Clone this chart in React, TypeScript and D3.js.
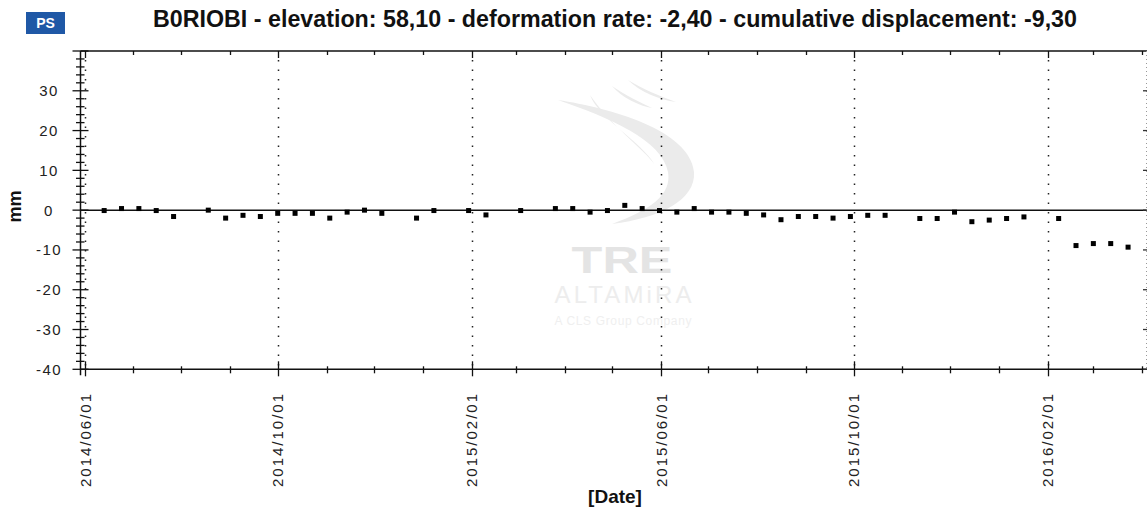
import React from 'react';
import * as d3 from 'd3';

const titleText = 'B0RIOBI - elevation: 58,10 - deformation rate: -2,40 - cumulative displacement: -9,30';
const badgeText = 'PS';
const yAxisTitle = 'mm';
const xAxisTitle = '[Date]';

const dates = [
  '2014-06-13', '2014-06-24', '2014-07-05', '2014-07-16', '2014-07-27', '2014-08-18', '2014-08-29',
  '2014-09-09', '2014-09-20', '2014-10-01', '2014-10-12', '2014-10-23', '2014-11-03', '2014-11-14',
  '2014-11-25', '2014-12-06', '2014-12-28', '2015-01-08', '2015-01-30', '2015-02-10', '2015-03-04',
  '2015-03-26', '2015-04-06', '2015-04-17', '2015-04-28', '2015-05-09', '2015-05-20', '2015-05-31',
  '2015-06-11', '2015-06-22', '2015-07-03', '2015-07-14', '2015-07-25', '2015-08-05', '2015-08-16',
  '2015-08-27', '2015-09-07', '2015-09-18', '2015-09-29', '2015-10-10', '2015-10-21', '2015-11-12',
  '2015-11-23', '2015-12-04', '2015-12-15', '2015-12-26', '2016-01-06', '2016-01-17', '2016-02-08',
  '2016-02-19', '2016-03-01', '2016-03-12', '2016-03-23',
];
const displacement = [
  -0.1, 0.4, 0.4, -0.1, -1.6, 0.0, -2.0,
  -1.3, -1.6, -0.8, -0.8, -0.8, -2.0, -0.5,
  0.0, -0.8, -2.0, -0.1, -0.1, -1.2, -0.1,
  0.4, 0.4, -0.5, -0.1, 1.2, 0.4, -0.1,
  -0.5, 0.4, -0.5, -0.5, -0.8, -1.2, -2.4,
  -1.6, -1.6, -2.0, -1.6, -1.3, -1.3, -2.1,
  -2.1, -0.5, -2.9, -2.5, -2.1, -1.7, -2.1,
  -8.9, -8.4, -8.4, -9.3,
];
const xTickLabels = ['2014/06/01', '2014/10/01', '2015/02/01', '2015/06/01', '2015/10/01', '2016/02/01'];
const yTickLabels = [-40, -30, -20, -10, 0, 10, 20, 30];
const xDomain = ['2014-05-29', '2016-04-04'];
const yDomain = [-40, 40];

const FONT = '"Liberation Sans", Arial, Helvetica, sans-serif';

export default function App() {
  const W = 1147;
  const H = 510;
  const left = 80.5;
  const right = 1146.5;
  const top = 51;
  const bottom = 369.3;
  const parse = d3.utcParse('%Y-%m-%d');
  const parseTick = d3.utcParse('%Y/%m/%d');

  const x = d3.scaleUtc().domain(xDomain.map((d) => parse(d) as Date)).range([left, 1147]);
  const y = d3.scaleLinear().domain(yDomain).range([bottom, top]);

  const monthTicks = d3.utcMonth.range(x.domain()[0], x.domain()[1]);
  const majorDates = xTickLabels.map((t) => parseTick(t) as Date);
  const isMajor = (d: Date) => majorDates.some((m) => m.getTime() === d.getTime());
  const yMinor = y.ticks(40);

  const ink = '#111';

  return (
    <svg width={W} height={H} style={{ position: 'absolute', left: 0, top: 0, background: '#fff' }} fontFamily={FONT}>
      <rect x={0} y={0} width={W} height={H} fill="#fff" />

      {/* watermark */}
      <g fill="#ebebeb" stroke="none">
        <path d="M 558 100 C 610 108, 690 130, 694 172 C 696 200, 660 218, 612 224 C 650 210, 672 195, 668 172 C 662 140, 610 118, 558 100 Z" />
        <path d="M 590 95 C 600 120, 640 140, 655 165 C 645 150, 610 125, 590 95 Z" />
        <path d="M 612 86 C 622 98, 640 106, 652 108 C 640 102, 626 96, 612 86 Z" />
        <path d="M 628 80 C 640 92, 660 100, 676 102 C 660 96, 644 90, 628 80 Z" />
        <text transform="translate(622,273) scale(1.4,1)" fontSize={36} fontWeight="bold" textAnchor="middle" fill="#e4e4e4">TRE</text>
        <text x={623} y={303} fontSize={24} textAnchor="middle" textLength={137} fill="#ededed">ALTAMiRA</text>
        <text x={623} y={325} fontSize={12} textAnchor="middle" textLength={137} fill="#efefef">A CLS Group Company</text>
      </g>

      {/* badge */}
      <rect x={26} y={12} width={39} height={22} fill="#1f58a6" />
      <text x={45.5} y={28} fontSize={14} fontWeight="bold" fill="#fff" textAnchor="middle">{badgeText}</text>

      {/* title */}
      <text x={153} y={27} fontSize={23} fontWeight="bold" fill={ink} textLength={924} lengthAdjust="spacingAndGlyphs">{titleText}</text>

      {/* vertical dotted grid at major dates */}
      {majorDates.map((d, i) => (
        <line key={'g' + i} x1={Math.round(x(d)) + 0.5} x2={Math.round(x(d)) + 0.5} y1={top + 9} y2={bottom}
          stroke="#222" strokeWidth={1.5} strokeDasharray="1.5 8" />
      ))}

      {/* zero line */}
      <line x1={left} x2={right} y1={y(0)} y2={y(0)} stroke={ink} strokeWidth={1.5} />

      {/* frame */}
      <line x1={left} x2={1147} y1={top} y2={top} stroke={ink} strokeWidth={1.5} />
      <line x1={left} x2={1147} y1={bottom} y2={bottom} stroke={ink} strokeWidth={1.5} />
      <line x1={left} x2={left} y1={top} y2={bottom + 6} stroke={ink} strokeWidth={1.5} />
      <line x1={right} x2={right} y1={top} y2={bottom} stroke="#999" strokeWidth={1} strokeDasharray="1 3" />

      {/* left ticks */}
      {yMinor.map((v, i) => {
        const major = v % 10 === 0;
        return (
          <line key={'ly' + i} x1={major ? left - 8 : left - 4.5} x2={major ? left + 8 : left + 4}
            y1={y(v)} y2={y(v)} stroke={ink} strokeWidth={1.3} />
        );
      })}
      {/* right ticks */}
      {yTickLabels.map((v, i) => (
        <line key={'ry' + i} x1={1143} x2={1147} y1={y(v)} y2={y(v)} stroke="#333" strokeWidth={1.3} />
      ))}

      {/* y labels */}
      {yTickLabels.map((v, i) => (
        <text key={'yl' + i} x={49} y={y(v) + 5.5} fontSize={15} textAnchor="middle" fill="#222" letterSpacing={1.5}>
          {String(v)}
        </text>
      ))}

      {/* top + bottom month ticks */}
      {monthTicks.map((d, i) => {
        const px = Math.round(x(d)) + 0.5;
        const major = isMajor(d);
        return (
          <g key={'mt' + i}>
            <line x1={px} x2={px} y1={top} y2={top + (major ? 7 : 4)} stroke={ink} strokeWidth={1.3} />
            <line x1={px} x2={px} y1={major ? bottom - 8 : bottom - 3} y2={major ? bottom + 7 : bottom + 4}
              stroke={ink} strokeWidth={1.3} />
          </g>
        );
      })}

      {/* x labels */}
      {majorDates.map((d, i) => {
        const px = x(d) + 5.5;
        return (
          <text key={'xl' + i} transform={`translate(${px},394) rotate(-90)`} fontSize={15} textAnchor="end" fill="#222"
            textLength={93} lengthAdjust="spacing">
            {xTickLabels[i]}
          </text>
        );
      })}

      {/* axis titles */}
      <text transform="translate(21,206.5) rotate(-90)" fontSize={18} fontWeight="bold" textAnchor="middle" fill={ink}>
        {yAxisTitle}
      </text>
      <text x={615} y={503} fontSize={19} fontWeight="bold" textAnchor="middle" fill={ink}>{xAxisTitle}</text>

      {/* points */}
      {dates.map((d, i) => {
        const px = x(parse(d) as Date);
        const py = y(displacement[i]);
        return <rect key={'p' + i} x={px - 2.5} y={py - 2.5} width={5} height={5} fill="#000" />;
      })}
    </svg>
  );
}
